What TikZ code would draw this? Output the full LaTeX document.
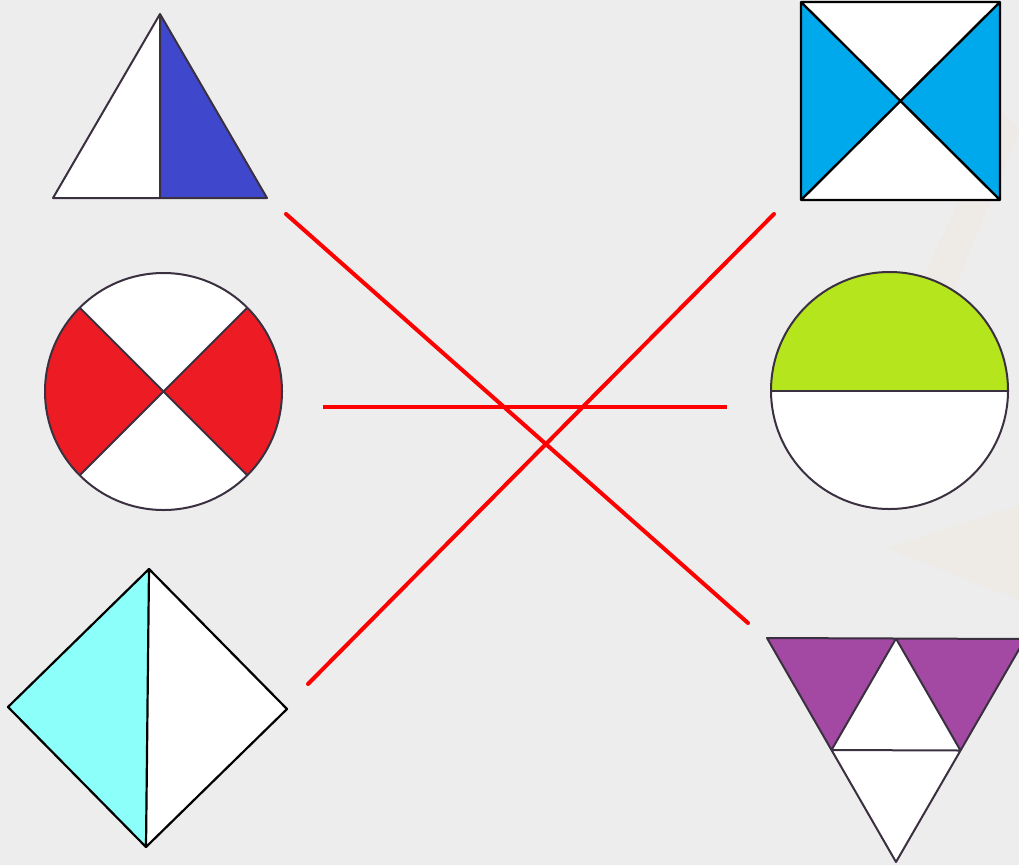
\documentclass[tikz,border=0pt]{standalone}
\usetikzlibrary{calc}
\begin{document}
\begin{tikzpicture}[x=1pt,y=-1pt,
  outl/.style={draw=outc,line width=2pt,line join=round},
  sqline/.style={draw=black,line width=2.4pt,line join=round},
  match/.style={draw=linered,line width=4pt,line cap=round}]
\definecolor{bg}{HTML}{EDEDED}
\definecolor{outc}{HTML}{3A3040}
\definecolor{triblue}{HTML}{3F48CC}
\definecolor{sqblue}{HTML}{00A8EC}
\definecolor{wedgered}{HTML}{ED1C24}
\definecolor{lime}{HTML}{B5E61D}
\definecolor{lcyan}{HTML}{8CFFFB}
\definecolor{purp}{HTML}{A349A4}
\definecolor{linered}{HTML}{FF0000}
\useasboundingbox (0,0) rectangle (1019,865);
\clip (0,0) rectangle (1019,865);
\fill[bg] (0,0) rectangle (1019,865);
% faint watermark shapes
\fill[orange!3!bg] (888,548) -- (1019,505) -- (1019,600) -- cycle;
\fill[orange!3!bg] (925,275) -- (1000,110) -- (1019,130) -- (950,300) -- cycle;

% triangle (top left)
\coordinate (t1a) at (160,14);
\coordinate (t1l) at (53,198);
\coordinate (t1r) at (267,198);
\coordinate (t1m) at (160,198);
\fill[white] (t1a) -- (t1l) -- (t1m) -- cycle;
\fill[triblue] (t1a) -- (t1m) -- (t1r) -- cycle;
\draw[outl] (t1a) -- (t1l) -- (t1r) -- cycle (t1a) -- (t1m);

% square (top right)
\coordinate (sqtl) at (801,2);
\coordinate (sqtr) at (1000,2);
\coordinate (sqbr) at (1000,200);
\coordinate (sqbl) at (801,200);
\coordinate (sqc) at (900.5,101);
\fill[white] (sqtl) rectangle (sqbr);
\fill[sqblue] (sqtl) -- (sqc) -- (sqbl) -- cycle;
\fill[sqblue] (sqtr) -- (sqc) -- (sqbr) -- cycle;
\draw[sqline] (sqtl) rectangle (sqbr) (sqtl) -- (sqbr) (sqtr) -- (sqbl);

% circle with cross (middle left)
\coordinate (c1) at (163.5,391.5);
\fill[white] (c1) circle[radius=118.5];
\fill[wedgered] (c1) -- ++(135:118.5) arc[start angle=135,end angle=225,radius=118.5] -- cycle;
\fill[wedgered] (c1) -- ++(-45:118.5) arc[start angle=-45,end angle=45,radius=118.5] -- cycle;
\draw[outl] (c1) circle[radius=118.5];
\draw[outl] ($(c1)+(135:118.5)$) -- ($(c1)+(-45:118.5)$);
\draw[outl] ($(c1)+(45:118.5)$) -- ($(c1)+(225:118.5)$);

% half circle (middle right)
\coordinate (c2) at (889.5,390.5);
\fill[white] (c2) circle[radius=118.5];
\fill[lime] ($(c2)+(-118.5,0)$) arc[start angle=180,end angle=360,radius=118.5] -- cycle;
\draw[outl] (c2) circle[radius=118.5];
\draw[outl] ($(c2)+(-118.5,0)$) -- ($(c2)+(118.5,0)$);

% diamond (bottom left)
\coordinate (dt) at (149,569);
\coordinate (dl) at (8,707);
\coordinate (dr) at (287,709);
\coordinate (db) at (146,847);
\fill[lcyan] (dt) -- (dl) -- (db) -- cycle;
\fill[white] (dt) -- (dr) -- (db) -- cycle;
\draw[sqline,line width=2.2pt] (dt) -- (dl) -- (db) -- (dr) -- cycle (dt) -- (db);

% inverted triangle (bottom right)
\coordinate (itl) at (767,638);
\coordinate (itr) at (1025,639);
\coordinate (ib) at (896,862);
\coordinate (itm) at ($(itl)!0.5!(itr)$);
\coordinate (ilm) at ($(itl)!0.5!(ib)$);
\coordinate (irm) at ($(itr)!0.5!(ib)$);
\fill[white] (itl) -- (itr) -- (ib) -- cycle;
\fill[purp] (itl) -- (itm) -- (ilm) -- cycle;
\fill[purp] (itm) -- (itr) -- (irm) -- cycle;
\draw[outl] (itl) -- (itr) -- (ib) -- cycle (itm) -- (ilm) -- (irm) -- cycle;

% matching lines
\coordinate (m1a) at (286,214);
\coordinate (m1b) at (748,623);
\coordinate (m2a) at (774,214);
\coordinate (m2b) at (308,684);
\coordinate (m3a) at (323,407);
\coordinate (m3b) at (727,407);
\draw[match] (m1a) -- (m1b);
\draw[match] (m2a) -- (m2b);
\draw[match,line cap=butt] (m3a) -- (m3b);
\end{tikzpicture}
\end{document}
